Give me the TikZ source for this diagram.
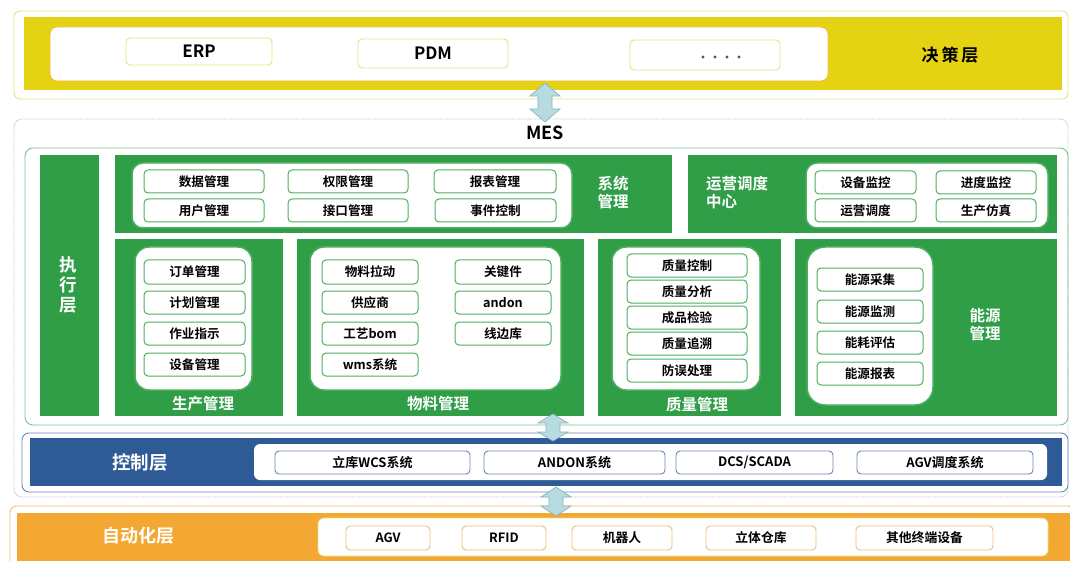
\documentclass[tikz,border=0pt]{standalone}
\usepackage{fontspec}
\setmainfont{Noto Sans CJK SC}[BoldFont={Noto Sans CJK SC Bold}]
\definecolor{ylw}{HTML}{E3D313}
\definecolor{ylwb}{HTML}{EEE07A}
\definecolor{orgb}{HTML}{F4B43A}
\definecolor{grn}{HTML}{2F9E47}
\definecolor{grnb}{HTML}{4DAF5E}
\definecolor{grnl}{HTML}{7CC48A}
\definecolor{blu}{HTML}{2E5A96}
\definecolor{blub}{HTML}{6A87B5}
\definecolor{org}{HTML}{F2A832}
\definecolor{orgi}{HTML}{EDBE78}
\definecolor{arw}{HTML}{B6DCE2}
\definecolor{arwb}{HTML}{8DB5BF}
\definecolor{dotc}{HTML}{A9B9C9}
\definecolor{dotg}{HTML}{555555}
\newcommand\bx[7][]{\node[#1,minimum width={(#5-#3)*1pt},minimum height={(#6-#4)*1pt}] (#2) at ({(#3+#5)/2},{(#4+#6)/2}) {#7};}
\newcommand\darrow[5]{\path[draw=arwb,fill=arw,line width=0.7pt] (#1,#2) coordinate (#5t) -- ({#1+15},{#2+#4}) -- ({#1+7},{#2+#4}) -- ({#1+7},{#3-#4}) -- ({#1+15},{#3-#4}) -- (#1,#3) coordinate (#5b) -- ({#1-15},{#3-#4}) -- ({#1-7},{#3-#4}) -- ({#1-7},{#2+#4}) -- ({#1-15},{#2+#4}) -- cycle;}
\tikzset{
  base/.style={inner sep=0pt,outer sep=0pt},
  ybox/.style={base,draw=ylwb,line width=0.9pt,rounded corners=4pt,fill=white,font=\bfseries\fontsize{17}{17}\selectfont},
  gitem/.style={base,draw=grnb,line width=1pt,rounded corners=4pt,fill=white,font=\bfseries\fontsize{12.6}{13}\selectfont},
  gpanel/.style={base,fill=grn},
  wpanel/.style={base,fill=white,draw=grnb,line width=1.5pt,rounded corners=14pt},
  wlab/.style={base,text=white,font=\bfseries\fontsize{15.5}{18}\selectfont,align=center},
  bitem/.style={base,draw=blub,line width=0.9pt,rounded corners=4pt,fill=white,font=\bfseries\fontsize{13}{13}\selectfont},
  oitem/.style={base,draw=orgi,line width=0.9pt,rounded corners=4pt,fill=white,font=\bfseries\fontsize{12.8}{13}\selectfont},
}
\begin{document}
\begin{tikzpicture}[x=1pt,y=-1pt]
\useasboundingbox (0,0) rectangle (1070,561);
\fill[white] (0,0) rectangle (1070,561);
% ---- decision layer
\bx[base,draw=ylwb,line width=0.9pt,rounded corners=6pt]{topo}{14}{11}{1068}{99}{}
\bx[base,fill=ylw]{topf}{24}{17}{1062}{90}{}
\bx[base,fill=white,draw=orgb,line width=0.8pt,rounded corners=7pt]{topw}{50}{27}{828}{81}{}
\bx[ybox]{erp}{126}{38}{272}{65}{ERP}
\bx[ybox]{pdm}{358}{39}{508}{68}{PDM}
\bx[ybox]{dots}{630}{40}{780}{70}{}
\foreach \i in {0,1,2,3} \fill[dotg] ({703+\i*12},57) circle (1.6pt);
\node[base,font=\bfseries\fontsize{17}{17}\selectfont] (jcc) at (950,55) {决\hspace{3pt}策\hspace{3pt}层};
% ---- MES
\bx[base,draw=dotc,densely dotted,line width=0.8pt,rounded corners=8pt]{mes}{14}{119}{1068}{497}{}
\node[base,font=\bfseries\fontsize{18}{18}\selectfont] (meslab) at (545,133) {MES};
\bx[base,draw=grnl,line width=0.9pt,rounded corners=8pt]{exec}{25}{148}{1068}{425}{}
\bx[gpanel]{zxc}{40}{155}{99}{416}{}
\node[wlab,font=\bfseries\fontsize{17.5}{20}\selectfont] (zxclab) at (68,285) {执\\行\\层};
% system management
\bx[gpanel]{sys}{115}{155}{672}{233}{}
\bx[wpanel,rounded corners=11pt]{sysw}{132}{163}{572}{228}{}
\bx[gitem]{s1}{144}{170}{264}{193}{数据管理}
\bx[gitem]{s2}{288}{170}{408}{193}{权限管理}
\bx[gitem]{s3}{434}{170}{556}{193}{报表管理}
\bx[gitem]{s4}{144}{199}{264}{222}{用户管理}
\bx[gitem]{s5}{288}{199}{408}{222}{接口管理}
\bx[gitem]{s6}{435}{199}{556}{222}{事件控制}
\node[wlab] (syslab) at (613,193) {系统\\管理};
% operations center
\bx[gpanel]{ops}{688}{155}{1057}{233}{}
\node[wlab,align=left,anchor=west] (opslab) at (706,193) {运营调度\\中心};
\bx[wpanel,rounded corners=11pt]{opsw}{806}{163}{1048}{228}{}
\bx[gitem]{o1}{815}{171}{916}{194}{设备监控}
\bx[gitem]{o2}{936}{171}{1036}{194}{进度监控}
\bx[gitem]{o3}{815}{199}{916}{222}{运营调度}
\bx[gitem]{o4}{936}{199}{1036}{222}{生产仿真}
% production
\bx[gpanel]{prd}{115}{239}{283}{416}{}
\bx[wpanel]{prdw}{135}{247}{252}{390}{}
\bx[gitem]{p1}{144}{260}{245}{284}{订单管理}
\bx[gitem]{p2}{144}{291}{245}{314}{计划管理}
\bx[gitem]{p3}{144}{322}{245}{345}{作业指示}
\bx[gitem]{p4}{144}{353}{245}{376}{设备管理}
\node[wlab] (prdlab) at (203,404) {生产管理};
% material
\bx[gpanel]{mat}{297}{239}{584}{416}{}
\bx[wpanel]{matw}{310}{247}{561}{390}{}
\bx[gitem]{m1}{322}{260}{418}{284}{物料拉动}
\bx[gitem]{m2}{322}{291}{418}{314}{供应商}
\bx[gitem]{m3}{322}{322}{418}{345}{工艺bom}
\bx[gitem]{m4}{322}{353}{418}{376}{wms系统}
\bx[gitem]{m5}{455}{260}{551}{284}{关键件}
\bx[gitem]{m6}{455}{291}{551}{314}{andon}
\bx[gitem]{m7}{455}{322}{551}{345}{线边库}
\node[wlab] (matlab) at (438,404) {物料管理};
% quality
\bx[gpanel]{qlt}{598}{239}{781}{416}{}
\bx[wpanel]{qltw}{612}{247}{760}{390}{}
\bx[gitem]{q1}{627}{254}{747}{277}{质量控制}
\bx[gitem]{q2}{627}{280}{747}{303}{质量分析}
\bx[gitem]{q3}{627}{306}{747}{329}{成品检验}
\bx[gitem]{q4}{627}{332}{747}{355}{质量追溯}
\bx[gitem]{q5}{627}{359}{747}{382}{防误处理}
\node[wlab] (qltlab) at (697,405) {质量管理};
% energy
\bx[gpanel]{eng}{795}{239}{1057}{416}{}
\bx[wpanel,rounded corners=18pt]{engw}{807}{247}{933}{405}{}
\bx[gitem]{e1}{817}{268}{923}{291}{能源采集}
\bx[gitem]{e2}{817}{300}{923}{323}{能源监测}
\bx[gitem]{e3}{817}{331}{923}{354}{能耗评估}
\bx[gitem]{e4}{817}{362}{923}{385}{能源报表}
\node[wlab] (englab) at (985,325) {能源\\管理};
% ---- control layer
\bx[base,draw=blub,line width=0.9pt,rounded corners=7pt]{ctlo}{22}{433}{1068}{492}{}
\bx[base,fill=blu]{ctl}{30}{438}{1062}{486}{}
\node[wlab,font=\bfseries\fontsize{18.5}{18.5}\selectfont] (ctllab) at (140,463) {控制层};
\bx[base,fill=white,rounded corners=6pt]{ctlw}{254}{444}{1047}{480}{}
\bx[bitem]{c1}{275}{451}{470}{474}{立库WCS系统}
\bx[bitem]{c2}{484}{451}{665}{474}{ANDON系统}
\bx[bitem]{c3}{676}{451}{833}{474}{DCS/SCADA}
\bx[bitem]{c4}{857}{451}{1033}{474}{AGV调度系统}
% ---- automation layer
\bx[base,draw=orgi,line width=0.9pt,rounded corners=7pt]{auto}{10}{506}{1075}{570}{}
\bx[base,fill=org]{autf}{17}{513}{1075}{570}{}
\node[wlab,font=\bfseries\fontsize{18}{18}\selectfont] (autlab) at (138,536) {自动化层};
\bx[base,fill=white,draw=ylwb,line width=0.8pt,rounded corners=6pt]{autw}{318}{518}{1048}{556}{}
\bx[oitem]{a1}{346}{526}{430}{550}{AGV}
\bx[oitem]{a2}{462}{526}{546}{550}{RFID}
\bx[oitem]{a3}{572}{526}{672}{550}{机器人}
\bx[oitem]{a4}{706}{526}{816}{550}{立体仓库}
\bx[oitem]{a5}{856}{526}{993}{550}{其他终端设备}
% ---- double arrows
\darrow{545}{83}{122}{13}{ar1}
\darrow{553}{414}{441}{9}{ar2}
\darrow{556}{487}{516}{10}{ar3}
\end{tikzpicture}
\end{document}
